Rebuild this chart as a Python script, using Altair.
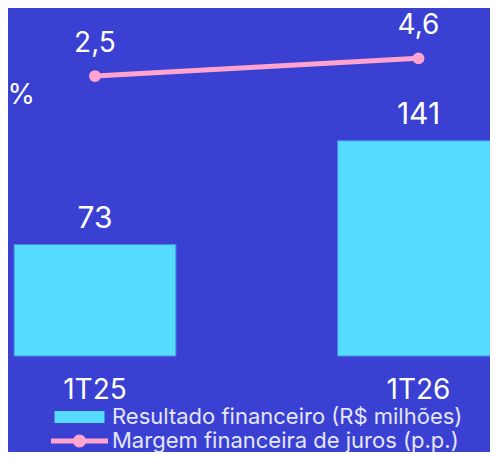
import altair as alt
import pandas as pd

categories = ["1T25", "1T26"]
resultado = [73, 141]
margem = [2.5, 4.6]
margem_labels = ["2,5", "4,6"]
resultado_name = "Resultado financeiro (R$ milhões)"
margem_name = "Margem financeira de juros (p.p.)"
cut_annotation = ["2%"]

BG = "#3a40d2"
CYAN = "#55dcff"
PINK = "#ffa3cf"
FONT = "Inter"

df = pd.DataFrame({
    "cat": categories,
    "res": resultado,
    "mar": margem,
    "mar_lbl": margem_labels,
    "sr": [resultado_name] * 2,
    "sm": [margem_name] * 2,
})

xscale = alt.Scale(domain=categories, range=[-74.75, 572.25], paddingInner=0.5, paddingOuter=0.25)
ybar = alt.Scale(domain=[0, 228])
yline = alt.Scale(domain=[-30.7, 10.57])

X = alt.X("cat:N", scale=xscale, sort=categories,
          axis=alt.Axis(title=None, domain=False, ticks=False, grid=False, labelAngle=0,
                        labelFontSize=28, labelColor="white", labelFont=FONT, labelPadding=20))

legend_common = dict(title=None, orient="none", legendX=43, symbolSize=3249,
                     symbolStrokeWidth=0, labelOffset=4, labelFontSize=22, labelFont=FONT,
                     labelColor="#e4e6ff", labelLimit=600, padding=0)

base = alt.Chart(df)

bars = base.mark_bar(stroke="#4a8cf0", strokeWidth=1).encode(
    x=X,
    y=alt.Y("res:Q", scale=ybar, axis=None),
    color=alt.Color("sr:N", scale=alt.Scale(domain=[resultado_name], range=[CYAN]),
                    legend=alt.Legend(legendY=380.5,
                                      symbolType="M-0.877,-0.21H0.877V0.21H-0.877Z",
                                      **legend_common)),
)

bar_text = base.mark_text(fontSize=30, font=FONT, color="white", dy=-17, baseline="alphabetic").encode(
    x=X,
    y=alt.Y("res:Q", scale=ybar, axis=None),
    text="res:Q",
)

line = base.mark_line(color=PINK, strokeWidth=5).encode(
    x=X,
    y=alt.Y("mar:Q", scale=yline, axis=None),
)

points = base.mark_point(filled=True, size=140, opacity=1, strokeWidth=0).encode(
    x=X,
    y=alt.Y("mar:Q", scale=yline, axis=None),
    color=alt.Color("sm:N", scale=alt.Scale(domain=[margem_name], range=[PINK]),
                    legend=alt.Legend(legendY=404.5,
                                      symbolType="M-1,-0.088H1V0.088H-1Z M-0.228,0A0.228,0.228 0 1,1 0.228,0A0.228,0.228 0 1,1 -0.228,0Z",
                                      **legend_common)),
)

line_text = base.mark_text(fontSize=28, font=FONT, color="white", dy=-24, baseline="alphabetic").encode(
    x=X,
    y=alt.Y("mar:Q", scale=yline, axis=None),
    text="mar_lbl:N",
)

pct = alt.Chart(pd.DataFrame({"t": cut_annotation})).mark_text(
    fontSize=28, font=FONT, color="white", align="right", baseline="alphabetic"
).encode(x=alt.value(27), y=alt.value(96), text="t:N")

chart = alt.layer(bars, bar_text, line, points, line_text, pct).resolve_scale(
    y="independent", color="independent"
).properties(
    width=482, height=348,
    background=BG,
    padding={"left": 0, "top": 0, "right": 0, "bottom": 96},
    autosize=alt.AutoSizeParams(type="none"),
).configure_view(stroke=None)

chart.save("out.html", embed_options={"renderer": "svg", "actions": False})
